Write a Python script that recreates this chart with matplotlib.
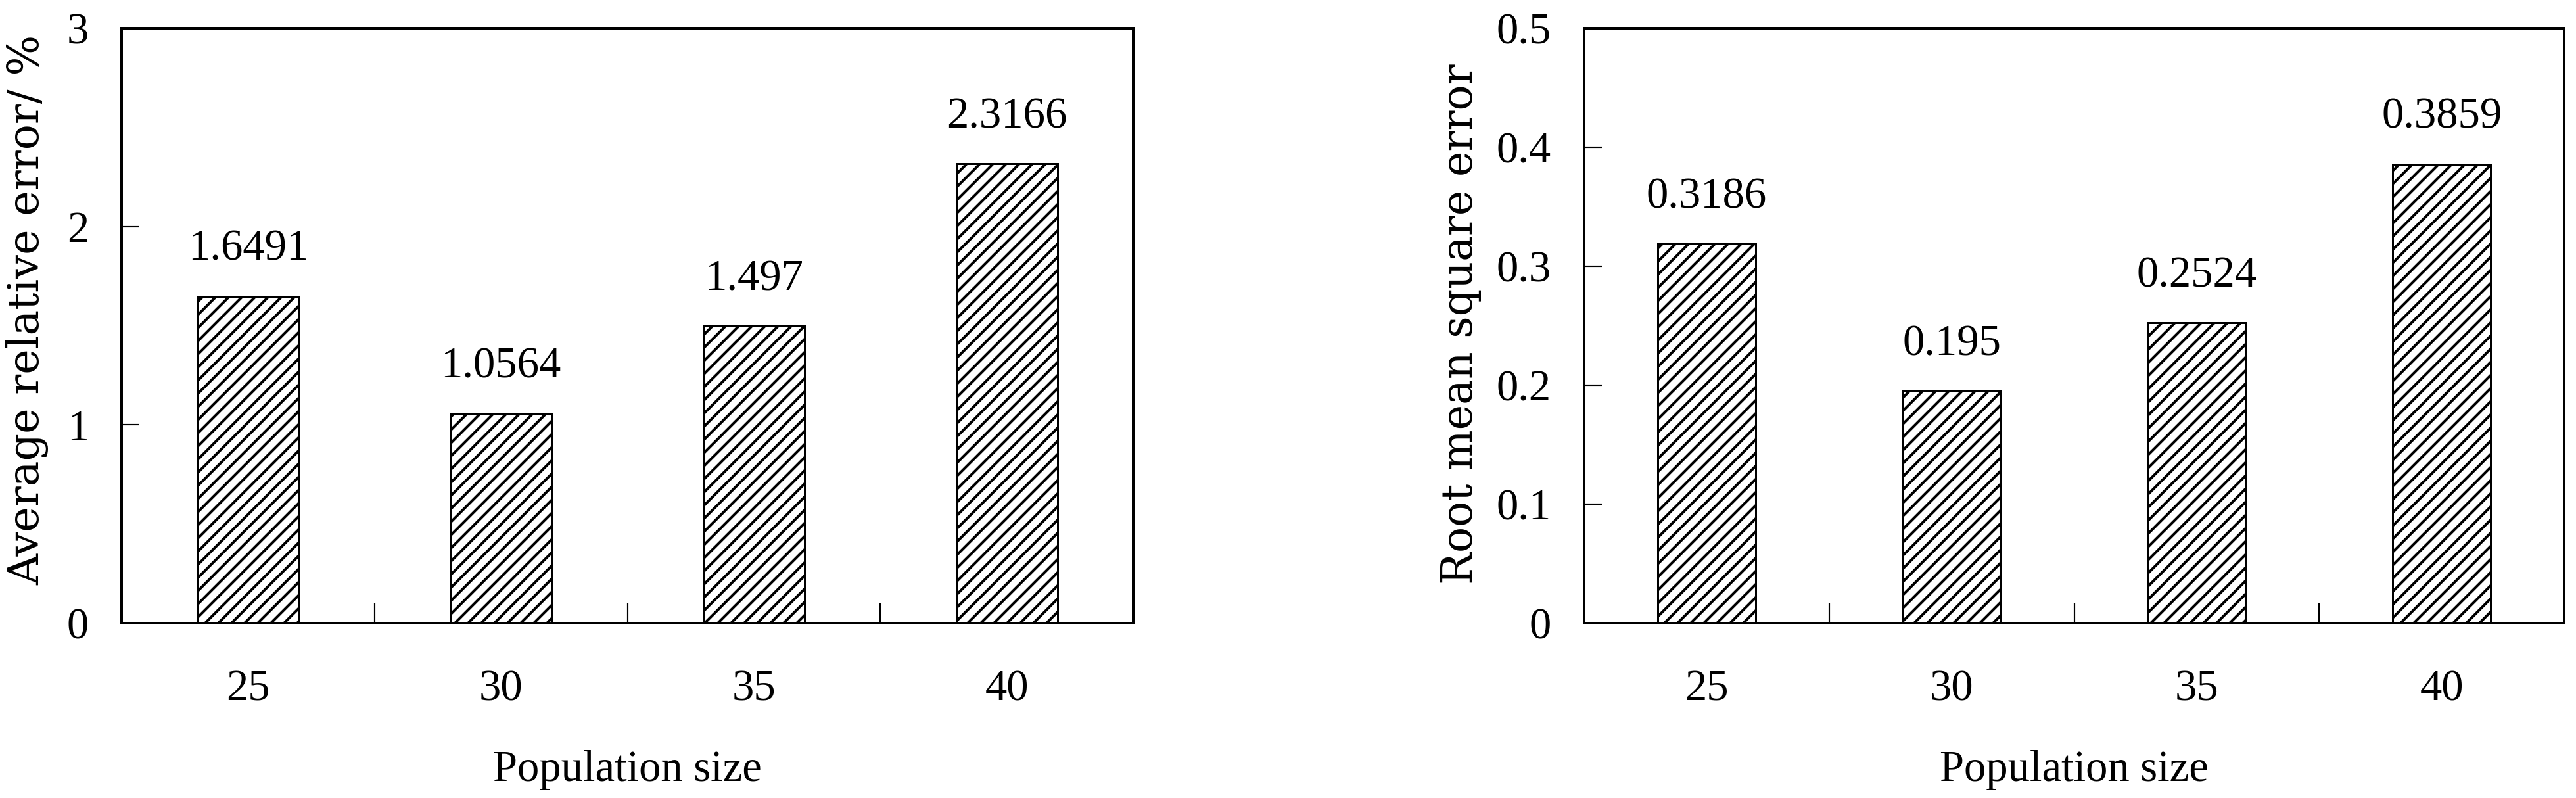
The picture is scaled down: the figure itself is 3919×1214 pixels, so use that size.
import matplotlib.pyplot as plt
import numpy as np

# data
pop_sizes = ['25', '30', '35', '40']
avg_rel_err = [1.6491, 1.0564, 1.497, 2.3166]
avg_rel_err_text = ['1.6491', '1.0564', '1.497', '2.3166']
rmse = [0.3186, 0.195, 0.2524, 0.3859]
rmse_text = ['0.3186', '0.195', '0.2524', '0.3859']

left_yticks = [0, 1, 2, 3]
left_yticklabels = ['0', '1', '2', '3']
right_yticks = [0, 0.1, 0.2, 0.3, 0.4, 0.5]
right_yticklabels = ['0', '0.1', '0.2', '0.3', '0.4', '0.5']

plt.rcParams['font.family'] = ['Liberation Serif', 'DejaVu Serif']
plt.rcParams['hatch.linewidth'] = 2.4

DPI = 120
fig = plt.figure(figsize=(3920 / DPI, 1214 / DPI), dpi=DPI)
ax1 = fig.add_axes([0.0472, 0.2191, 0.3926, 0.7455])
ax2 = fig.add_axes([0.6148, 0.2191, 0.3804, 0.7455])


def draw(ax, vals, texts, yticks, yticklabels, ylabel, ylab_x, ylab_y):
    x = np.arange(len(vals))
    ax.bar(x, vals, width=0.4, color='white', edgecolor='black',
           hatch='//', linewidth=1.8)
    for xi, v, t in zip(x, vals, texts):
        ax.annotate(t, (xi, v), xytext=(0, 33), textcoords='offset points',
                    ha='center', va='baseline', fontsize=40)
    ax.set_xlim(-0.5, len(vals) - 0.5)
    ax.set_ylim(yticks[0], yticks[-1])
    ax.set_yticks(yticks, yticklabels)
    # ticks between categories, labels at the centres
    ax.set_xticks(x[:-1] + 0.5, [''] * (len(vals) - 1))
    ax.set_xticks(x, pop_sizes, minor=True)
    ax.tick_params(axis='x', which='major', direction='in', length=18, width=1.3)
    ax.tick_params(axis='x', which='minor', length=0, pad=42, labelsize=40)
    ax.tick_params(axis='y', direction='in', length=16, width=1.3, pad=30, labelsize=40)
    for s in ax.spines.values():
        s.set_linewidth(2.4)
    ax.set_xlabel('Population size', fontsize=40, va='center')
    ax.xaxis.set_label_coords(0.5, -0.247)
    ax.set_ylabel(ylabel, fontsize=39, va='center', family='DejaVu Serif')
    ax.yaxis.set_label_coords(ylab_x, ylab_y)


draw(ax1, avg_rel_err, avg_rel_err_text, left_yticks, left_yticklabels,
     'Average relative error/ %', -0.093, 0.527)
draw(ax2, rmse, rmse_text, right_yticks, right_yticklabels,
     'Root mean square error', -0.126, 0.503)

fig.savefig('out.png', dpi=DPI, facecolor='white')
